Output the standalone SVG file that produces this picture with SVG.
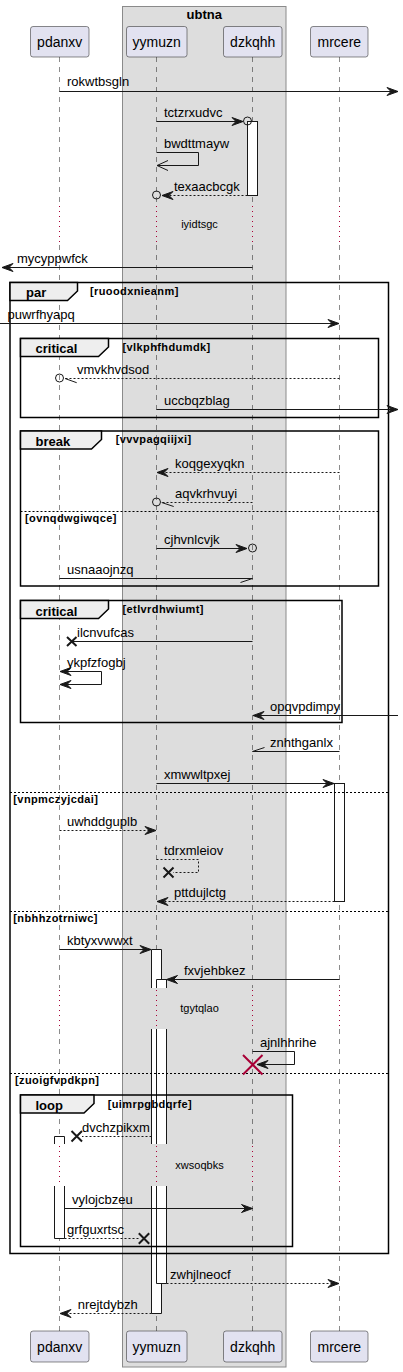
<svg xmlns="http://www.w3.org/2000/svg" width="403" height="1372" viewBox="0 0 403 1372">
<defs>
<style>
text{font-family:"Liberation Sans",Arial,sans-serif;fill:#000}
.m{font-size:13px}
.p{font-size:14px;text-anchor:middle}
.bt{font-size:13px;font-weight:bold;text-anchor:middle}
.fl{font-size:13px;font-weight:bold}
.fc{font-size:11px;font-weight:bold;letter-spacing:0.4px}
.d{font-size:11px;text-anchor:middle}
.ll{stroke:#181818;stroke-width:0.5;stroke-dasharray:5,5;fill:none}
.dl{stroke:#A80036;stroke-width:1;stroke-dasharray:1,4;fill:none}
.pb{fill:#E2E2F0;stroke:#181818;stroke-width:0.5}
.act{fill:#fff;stroke:none}
.ae{fill:none;stroke:#181818;stroke-width:1}
.fr{fill:none;stroke:#000;stroke-width:1.5}
.tab{fill:#EEEEEE;stroke:#000;stroke-width:1.5}
.el{stroke:#000;stroke-width:1;stroke-dasharray:2,2}
.s{stroke:#181818;stroke-width:1;fill:none}
.ds{stroke:#181818;stroke-width:1;fill:none;stroke-dasharray:2,2}
.a{marker-end:url(#ah)}
.o{marker-end:url(#oh)}
.x{stroke:#181818;stroke-width:2;fill:none}
.c{fill:none;stroke:#181818;stroke-width:1}
</style>
<marker id="ah" viewBox="-1 -1 13 12" refX="11" refY="5" markerWidth="13" markerHeight="12" markerUnits="userSpaceOnUse" orient="auto-start-reverse" overflow="visible"><path d="M0,1 L11,5 L0,9 L4,5 Z" fill="#181818" stroke="#181818" stroke-width="1" stroke-linejoin="miter"/></marker>
<marker id="oh" viewBox="-1 -1 13 12" refX="11" refY="5" markerWidth="13" markerHeight="12" markerUnits="userSpaceOnUse" orient="auto" overflow="visible"><path d="M0,0 L11,5 L0,10" fill="none" stroke="#181818" stroke-width="1"/></marker>
</defs>

<g id="box-ubtna">
<rect x="122.5" y="6.5" width="163.5" height="1360.5" fill="#DDDDDD" stroke="#8A8A8A" stroke-width="1"/>
<text class="bt" x="204.3" y="19">ubtna</text>
</g>

<g id="lifelines">
<path class="ll" d="M59.5,57 V204 M59.5,245 V988 M59.5,1029 V1144 M59.5,1186 V1331"/>
<path class="ll" d="M156.5,57 V204 M156.5,245 V988 M156.5,1029 V1144 M156.5,1186 V1331"/>
<path class="ll" d="M252.5,57 V204 M252.5,245 V988 M252.5,1029 V1144 M252.5,1186 V1331"/>
<path class="ll" d="M339.5,57 V204 M339.5,245 V988 M339.5,1029 V1144 M339.5,1186 V1331"/>
<path class="dl" d="M59.5,206 V245 M156.5,206 V245 M252.5,206 V245 M339.5,206 V245"/>
<path class="dl" d="M59.5,990 V1029 M156.5,990 V1029 M252.5,990 V1029 M339.5,990 V1029"/>
<path class="dl" d="M59.5,1146 V1186 M156.5,1146 V1186 M252.5,1146 V1186 M339.5,1146 V1186"/>
<text class="d" x="199.5" y="228.3">iyidtsgc</text>
<text class="d" x="199.5" y="1012">tgytqlao</text>
<text class="d" x="199.5" y="1169">xwsoqbks</text>
</g>

<g id="pdanxv">
<rect class="pb" x="30.5" y="26.5" width="58.5" height="30.5" rx="2.5"/>
<text class="p" x="59.7" y="47">pdanxv</text>
<rect class="pb" x="30.5" y="1331" width="58.5" height="31" rx="2.5"/>
<text class="p" x="59.7" y="1351.7">pdanxv</text>
</g>
<g id="yymuzn">
<rect class="pb" x="126.5" y="26.5" width="60.5" height="30.5" rx="2.5"/>
<text class="p" x="156.7" y="47">yymuzn</text>
<rect class="pb" x="126.5" y="1331" width="60.5" height="31" rx="2.5"/>
<text class="p" x="156.7" y="1351.7">yymuzn</text>
</g>
<g id="dzkqhh">
<rect class="pb" x="223.5" y="26.5" width="58.5" height="30.5" rx="2.5"/>
<text class="p" x="252.7" y="47">dzkqhh</text>
<rect class="pb" x="223.5" y="1331" width="58.5" height="31" rx="2.5"/>
<text class="p" x="252.7" y="1351.7">dzkqhh</text>
</g>
<g id="mrcere">
<rect class="pb" x="310.5" y="26.5" width="57.5" height="30.5" rx="2.5"/>
<text class="p" x="339.3" y="47">mrcere</text>
<rect class="pb" x="310.5" y="1331" width="57.5" height="31" rx="2.5"/>
<text class="p" x="339.3" y="1351.7">mrcere</text>
</g>

<g id="activations">
<rect x="247.5" y="121.5" width="10" height="74" fill="#fff" stroke="#181818" stroke-width="1"/>
<rect x="334.5" y="783.5" width="10" height="118" fill="#fff" stroke="#181818" stroke-width="1"/>
<rect class="act" x="151.5" y="949.5" width="10" height="38.5"/>
<rect class="act" x="151.5" y="1029" width="10" height="115"/>
<rect class="act" x="151.5" y="1186" width="10" height="127.5"/>
<path class="ae" d="M151.5,988 V949.5 H161.5 V988 M151.5,1029 V1144 M161.5,1029 V1144 M151.5,1186 V1313.5 H161.5 V1186"/>
<rect class="act" x="156.5" y="979.5" width="10" height="8.5"/>
<rect class="act" x="156.5" y="1029" width="10" height="115"/>
<rect class="act" x="156.5" y="1186" width="10" height="97.5"/>
<path class="ae" d="M156.5,988 V979.5 H166.5 V988 M156.5,1029 V1144 M166.5,1029 V1144 M156.5,1186 V1283.5 H166.5 V1186"/>
<rect class="act" x="54.5" y="1136.5" width="10" height="7.5"/>
<rect class="act" x="54.5" y="1186" width="10" height="52.5"/>
<path class="ae" d="M54.5,1144 V1136.5 H64.5 V1144 M54.5,1186 V1238.5 H64.5 V1186"/>
</g>

<g id="frame-par">
<rect class="fr" x="10" y="282.5" width="378.5" height="971"/>
<polygon class="tab" points="10,282.5 77.5,282.5 77.5,291 67.5,300.5 10,300.5"/>
<text class="fl" x="26" y="297">par</text>
<text class="fc" x="90" y="294.5">[ruoodxnieanm]</text>
<line class="el" x1="10" y1="792.5" x2="388.5" y2="792.5"/>
<text class="fc" x="13.3" y="802.7">[vnpmczyjcdai]</text>
<line class="el" x1="10" y1="911.5" x2="388.5" y2="911.5"/>
<text class="fc" x="13.3" y="921.8">[nbhhzotrniwc]</text>
<line class="el" x1="10" y1="1073.5" x2="388.5" y2="1073.5"/>
<text class="fc" x="15" y="1083.8">[zuoigfvpdkpn]</text>
</g>
<g id="frame-critical-1">
<rect class="fr" x="20.5" y="338.5" width="358" height="79"/>
<polygon class="tab" points="20.5,338.5 108.5,338.5 108.5,347 98.5,356.5 20.5,356.5"/>
<text class="fl" x="35.5" y="353.3">critical</text>
<text class="fc" x="122.5" y="350.6">[vlkphfhdumdk]</text>
</g>
<g id="frame-break">
<rect class="fr" x="20.5" y="431" width="358" height="155"/>
<polygon class="tab" points="20.5,431 101.5,431 101.5,439.5 91.5,449 20.5,449"/>
<text class="fl" x="35.5" y="446">break</text>
<text class="fc" x="115.7" y="443.3">[vvvpagqiijxi]</text>
<line class="el" x1="20.5" y1="511.5" x2="378.5" y2="511.5"/>
<text class="fc" x="25" y="521.7">[ovnqdwgiwqce]</text>
</g>
<g id="frame-critical-2">
<rect class="fr" x="20.5" y="600.5" width="321.5" height="122"/>
<polygon class="tab" points="20.5,600.5 108.5,600.5 108.5,609 98.5,618.5 20.5,618.5"/>
<text class="fl" x="35.5" y="615.5">critical</text>
<text class="fc" x="122.5" y="612.8">[etlvrdhwiumt]</text>
</g>
<g id="frame-loop">
<rect class="fr" x="20.5" y="1095" width="272" height="151.5"/>
<polygon class="tab" points="20.5,1095 94,1095 94,1103.5 84,1113 20.5,1113"/>
<text class="fl" x="35.5" y="1110">loop</text>
<text class="fc" x="107.7" y="1107.5">[uimrpgbdqrfe]</text>
</g>

<g id="connectors">
<line class="s a" x1="59.5" y1="91.5" x2="398" y2="91.5"/>
<text class="m" x="67" y="86">rokwtbsgln</text>

<line class="s a" x1="156.5" y1="121.5" x2="243" y2="121.5"/>
<circle class="c" cx="247.5" cy="121" r="4"/>
<text class="m" x="164" y="116.5">tctzrxudvc</text>

<polyline class="s o" points="156.5,152.5 198.5,152.5 198.5,165.5 157,165.5"/>
<text class="m" x="164" y="147.5">bwdttmayw</text>

<line class="ds a" x1="247.5" y1="195.5" x2="162" y2="195.5"/>
<circle class="c" cx="156.5" cy="195" r="4"/>
<text class="m" x="174" y="190.5">texaacbcgk</text>

<line class="s a" x1="252.5" y1="267.5" x2="2" y2="267.5"/>
<text class="m" x="17" y="262.5">mycyppwfck</text>

<line class="s a" x1="0" y1="323.5" x2="339" y2="323.5"/>
<text class="m" x="7.5" y="318.5">puwrfhyapq</text>

<line class="ds" x1="339.5" y1="378.5" x2="65" y2="378.5"/>
<circle class="c" cx="59.5" cy="378" r="4"/>
<line class="s" x1="65" y1="378.5" x2="76.7" y2="382.7"/>
<text class="m" x="77" y="373.5">vmvkhvdsod</text>

<line class="s a" x1="156.5" y1="409.5" x2="398" y2="409.5"/>
<text class="m" x="164" y="404.5">uccbqzblag</text>

<line class="ds a" x1="339.5" y1="472.5" x2="157" y2="472.5"/>
<text class="m" x="175" y="467.5">koqgexyqkn</text>

<line class="ds" x1="252.5" y1="502.5" x2="161" y2="502.5"/>
<circle class="c" cx="156.5" cy="502" r="4"/>
<line class="s" x1="161.7" y1="502.5" x2="173.7" y2="506.5"/>
<text class="m" x="175" y="497.5">aqvkrhvuyi</text>

<line class="s a" x1="156.5" y1="548.5" x2="247" y2="548.5"/>
<circle class="c" cx="252.5" cy="548" r="4"/>
<text class="m" x="164" y="543.5">cjhvnlcvjk</text>

<line class="s" x1="59.5" y1="578.5" x2="252.5" y2="578.5"/>
<line class="s" x1="252.5" y1="578.5" x2="240.5" y2="582.5"/>
<text class="m" x="67" y="573.5">usnaaojnzq</text>

<line class="s" x1="252.5" y1="641.5" x2="72" y2="641.5"/>
<path class="x" d="M67,637 L76.5,646 M76.5,637 L67,646"/>
<text class="m" x="77" y="636.5">ilcnvufcas</text>

<polyline class="s a" points="60,671.5 101.5,671.5 101.5,684.5 60,684.5" style="marker-start:url(#ah)"/>
<text class="m" x="67" y="666.5">ykpfzfogbj</text>

<line class="s a" x1="398" y1="715.5" x2="253" y2="715.5"/>
<text class="m" x="270" y="710.5">opqvpdimpy</text>

<line class="s" x1="339.5" y1="751.5" x2="252.5" y2="751.5"/>
<line class="s" x1="252.5" y1="751.5" x2="264.5" y2="747.5"/>
<text class="m" x="270" y="746.5">znhthganlx</text>

<line class="s a" x1="156.5" y1="783.5" x2="334" y2="783.5"/>
<text class="m" x="164" y="778.5">xmwwltpxej</text>

<line class="ds a" x1="59.5" y1="830.5" x2="156" y2="830.5"/>
<text class="m" x="67" y="825.5">uwhddguplb</text>

<polyline class="ds" points="156.5,859.5 198.5,859.5 198.5,872.5 173,872.5"/>
<path class="x" d="M163.5,867.5 L173.5,877.5 M173.5,867.5 L163.5,877.5"/>
<text class="m" x="164" y="854.5">tdrxmleiov</text>

<line class="ds a" x1="334.5" y1="901.5" x2="157" y2="901.5"/>
<text class="m" x="174" y="896.5">pttdujlctg</text>

<line class="s a" x1="59.5" y1="949.5" x2="151" y2="949.5"/>
<text class="m" x="67" y="944.5">kbtyxvwwxt</text>

<line class="s a" x1="339.5" y1="979.5" x2="166.5" y2="979.5"/>
<text class="m" x="184" y="974.5">fxvjehbkez</text>

<polyline class="s a" points="252.5,1051.5 294.5,1051.5 294.5,1064.5 257,1064.5"/>
<path d="M243,1055 L262.5,1074.5 M262.5,1055 L243,1074.5" stroke="#A80036" stroke-width="2" fill="none"/>
<text class="m" x="260" y="1046.5">ajnlhhrihe</text>

<line class="ds" x1="151.5" y1="1136.5" x2="82" y2="1136.5"/>
<path class="x" d="M71.5,1131 L82,1141.5 M82,1131 L71.5,1141.5"/>
<text class="m" x="82" y="1131.5">dvchzpikxm</text>

<line class="s a" x1="64.5" y1="1208.5" x2="252.5" y2="1208.5"/>
<text class="m" x="72" y="1203.5">vylojcbzeu</text>

<line class="ds" x1="64.5" y1="1238.5" x2="139" y2="1238.5"/>
<path class="x" d="M138.8,1233.3 L149.2,1243.7 M149.2,1233.3 L138.8,1243.7"/>
<text class="m" x="67" y="1233.5">grfguxrtsc</text>

<line class="ds a" x1="166.5" y1="1283.5" x2="339" y2="1283.5"/>
<text class="m" x="170" y="1278.5">zwhjlneocf</text>

<line class="ds a" x1="151.5" y1="1313.5" x2="60" y2="1313.5"/>
<text class="m" x="77.7" y="1308.5">nrejtdybzh</text>
</g>
</svg>
